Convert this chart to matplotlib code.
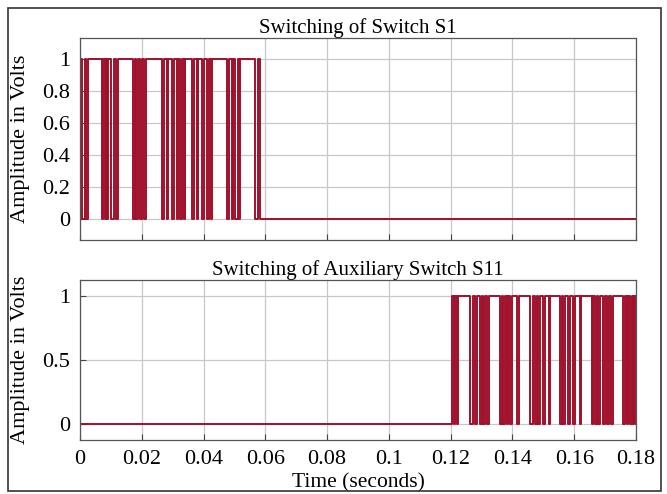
import numpy as np
import matplotlib
matplotlib.use('Agg')
import matplotlib.pyplot as plt
from matplotlib.patches import Rectangle

# gate pulses, stored as the intervals (ms) where the switch is OFF inside its active window
s1_on = (0.0, 58.3)
s1_off = [(0.75, 1.6), (2.1, 2.5),
          (7.2, 7.6), (8.1, 8.5), (8.9, 9.2), (10.0, 11.1), (11.8, 12.4),
          (17.3, 17.7), (18.1, 18.9), (19.4, 20.0), (20.7, 21.3),
          (26.4, 27.3), (28.1, 28.6), (29.7, 30.5), (31.3, 31.7), (32.4, 33.1), (33.6, 34.0),
          (36.2, 37.0), (37.8, 38.2), (39.4, 40.3), (41.0, 41.8), (42.3, 42.6),
          (47.5, 48.2), (49.1, 49.5), (50.2, 51.0), (51.5, 51.8),
          (56.7, 57.5)]

s11_on = (120.3, 180.0)
s11_off = [(121.0, 121.4), (121.9, 122.5),
           (126.3, 127.3), (128.0, 128.4), (129.5, 130.1), (130.6, 131.1), (131.8, 132.4),
           (136.0, 136.6), (137.0, 137.6), (138.1, 138.6), (139.1, 139.8), (141.4, 142.2),
           (145.8, 146.5), (147.3, 147.8), (148.4, 148.9), (150.0, 150.6), (151.7, 152.2),
           (155.5, 156.1), (156.5, 157.0), (158.1, 158.6), (159.7, 160.3), (161.9, 162.3),
           (165.7, 166.2), (166.8, 167.3), (167.8, 168.3), (169.4, 170.0), (170.6, 171.2),
           (172.0, 172.6),
           (175.8, 176.4), (177.0, 177.5), (178.1, 178.6), (179.1, 179.5)]

t_end = 180.0
red = '#A0102A'


def gate_signal(on, off):
    # build step waveform (t in seconds) from on-window and off gaps
    t = [0.0]
    v = [0.0]
    edges = [(on[0], 1.0)]
    for a, b in off:
        edges.append((a, 0.0))
        edges.append((b, 1.0))
    edges.append((on[1], 0.0))
    for te, lvl in edges:
        t += [te, te]
        v += [v[-1], lvl]
    t.append(t_end)
    v.append(v[-1])
    return np.array(t) / 1000.0, np.array(v)


plt.rcParams['font.family'] = ['Liberation Serif', 'DejaVu Serif']
plt.rcParams['font.size'] = 15.5

fig = plt.figure(figsize=(6.67, 4.94), dpi=100)
fig.patches.append(Rectangle((0.012, 0.006), 0.979, 0.978, transform=fig.transFigure,
                             fill=False, edgecolor='#333333', linewidth=1.2))

W, H = 667.0, 494.0
ax1 = fig.add_axes([80 / W, 1 - 240 / H, 556 / W, 202 / H])
ax2 = fig.add_axes([80 / W, 1 - 440 / H, 556 / W, 160 / H])

for ax, (on, off), title, yt, ylim in [
        (ax1, (s1_on, s1_off), 'Switching of Switch S1', [0, 0.2, 0.4, 0.6, 0.8, 1], (-0.135, 1.135)),
        (ax2, (s11_on, s11_off), 'Switching of Auxiliary Switch S11', [0, 0.5, 1], (-0.125, 1.125))]:
    t, v = gate_signal(on, off)
    ax.plot(t, v, color=red, linewidth=1.4)
    ax.set_xlim(0, 0.18)
    ax.set_ylim(*ylim)
    ax.set_xticks(np.arange(0, 0.181, 0.02))
    ax.set_yticks(yt)
    ax.set_yticklabels(['0' if y == 0 else ('1' if y == 1 else f'{y:g}') for y in yt])
    ax.grid(True, color='#C8C8C8', linewidth=0.9)
    ax.set_axisbelow(True)
    ax.tick_params(direction='in', length=4, color='#444444', pad=7, labelsize=16)
    for s in ax.spines.values():
        s.set_color('#555555')
        s.set_linewidth(0.9)
    ax.set_title(title, fontsize=15, pad=3)
    ax.set_ylabel('Amplitude in Volts', fontsize=16)

ax1.tick_params(labelbottom=False)
ax2.set_xticklabels(['0', '0.02', '0.04', '0.06', '0.08', '0.1', '0.12', '0.14', '0.16', '0.18'])
ax2.set_xlabel('Time (seconds)', fontsize=15.5, labelpad=3)
ax1.yaxis.set_label_coords(-0.09, 0.5)
ax2.yaxis.set_label_coords(-0.09, 0.5)

fig.savefig('out.png', dpi=100)
